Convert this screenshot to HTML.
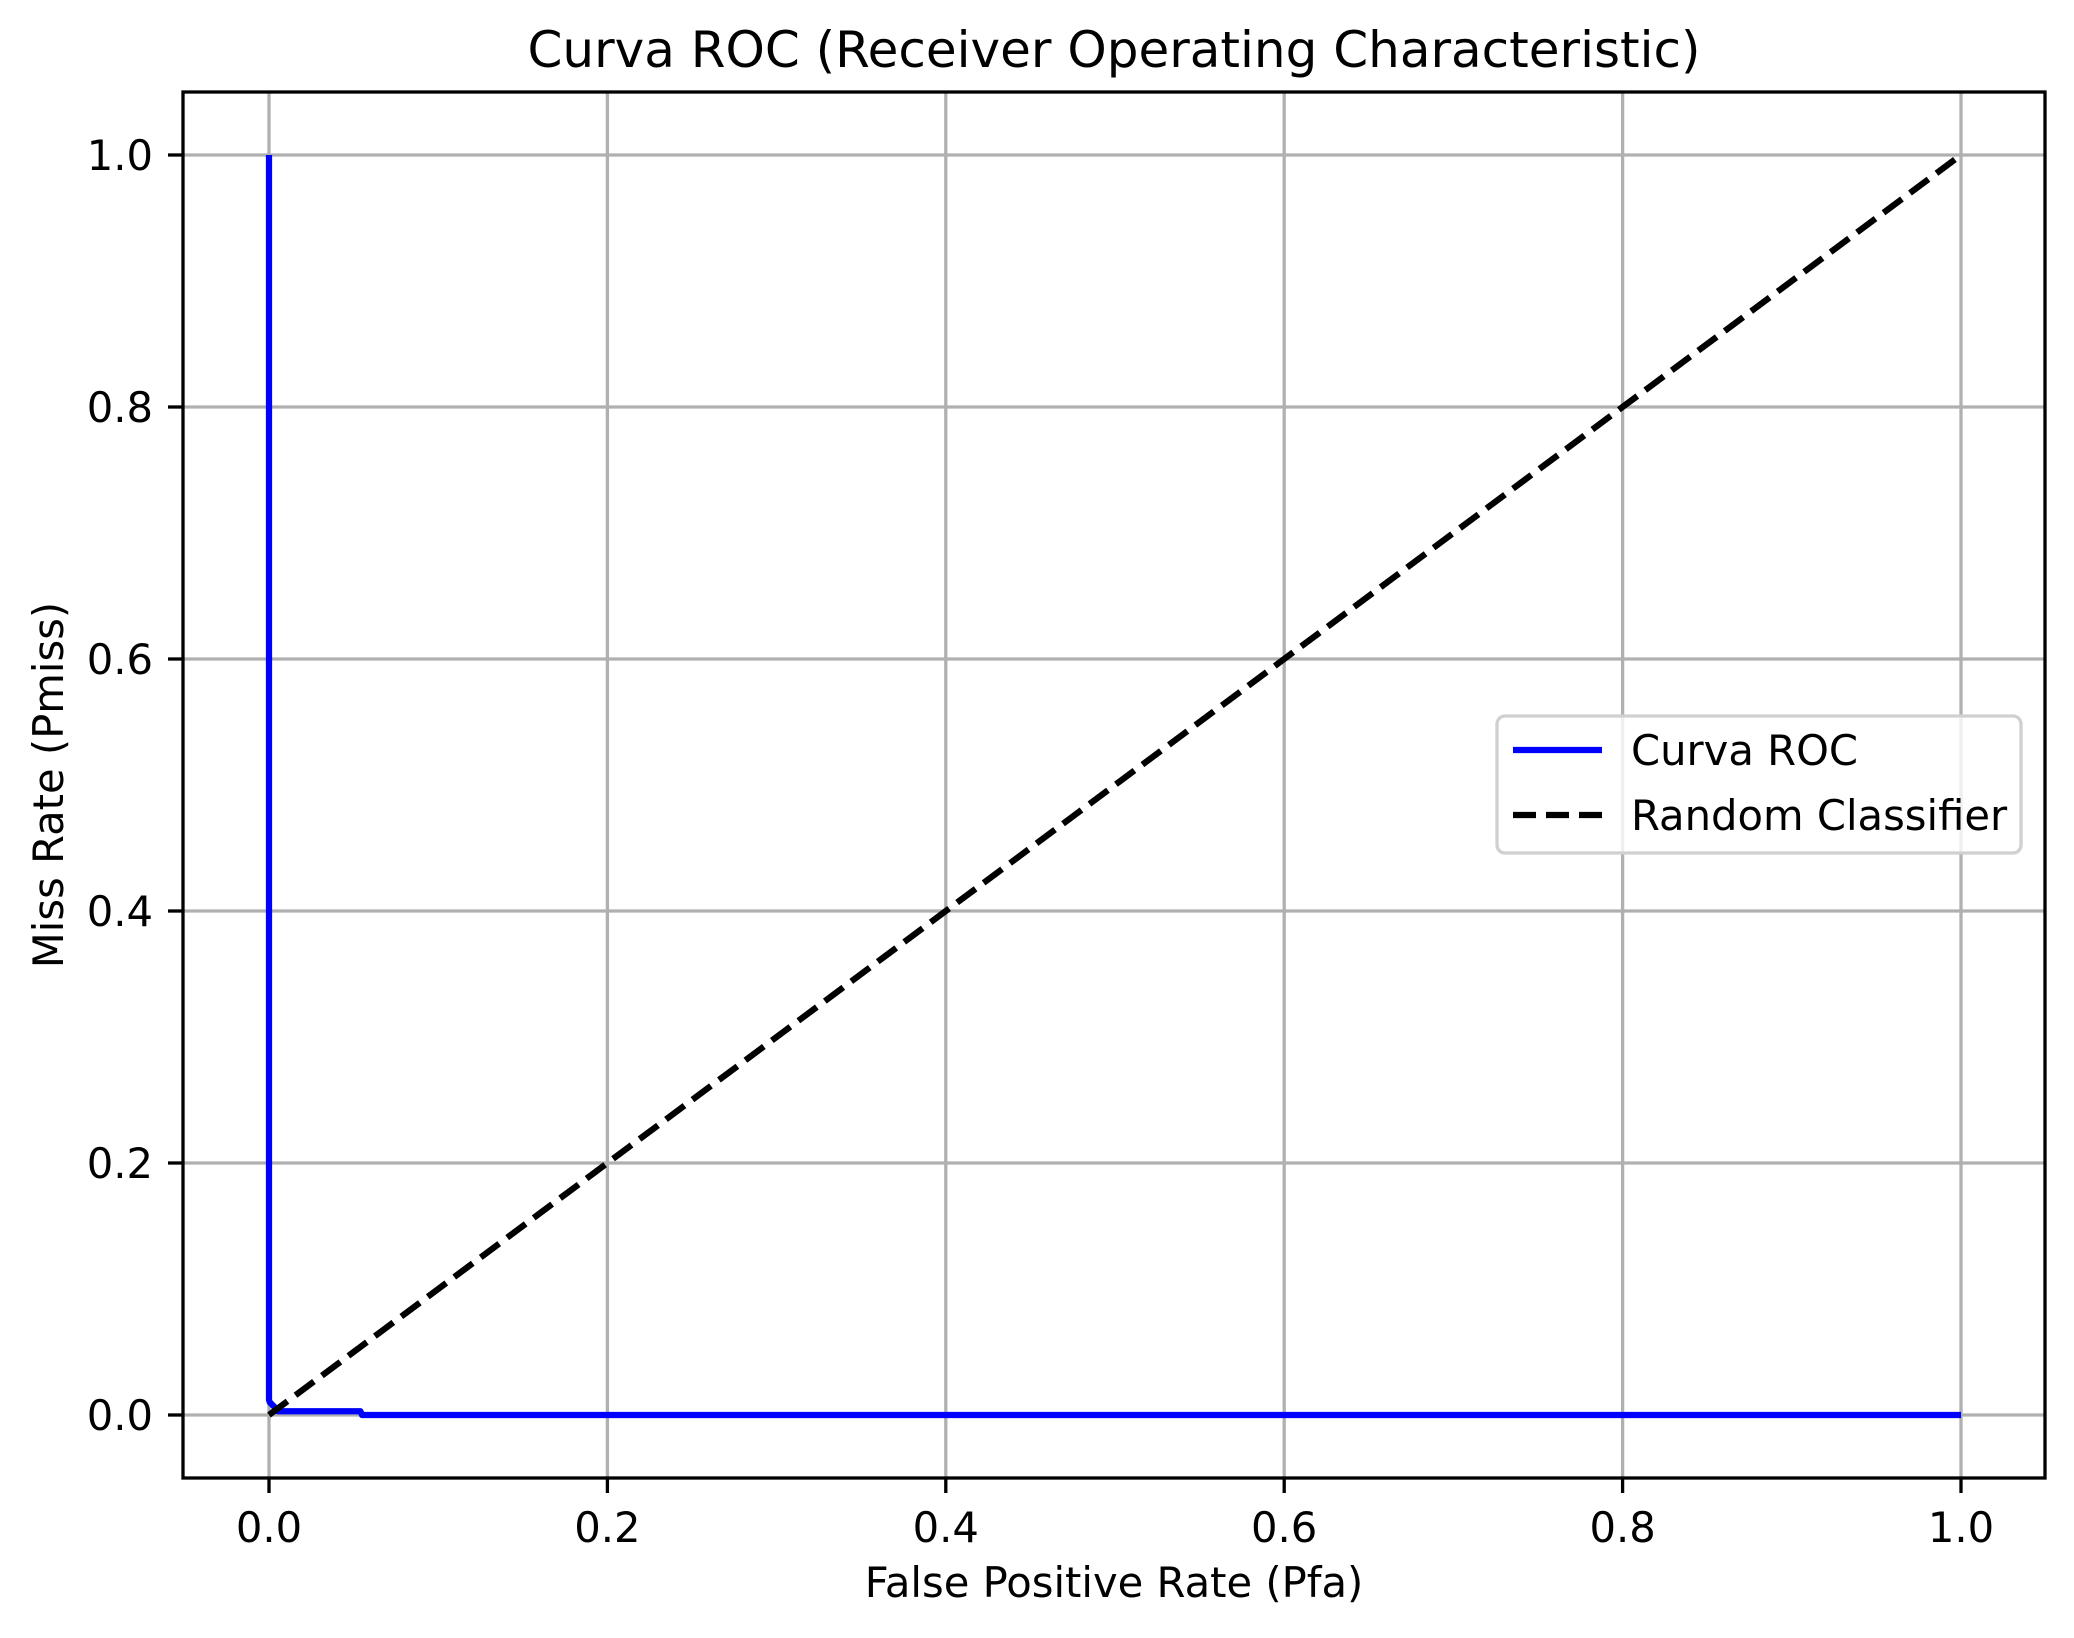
<!DOCTYPE html>
<html><head><meta charset="utf-8"><style>
html,body{margin:0;padding:0;background:#fff;}
svg{display:block;font-family:"DejaVu Sans","Liberation Sans",sans-serif;}
</style></head><body>
<svg id="chart" width="2074" height="1638" viewBox="0 0 2074 1638" xmlns="http://www.w3.org/2000/svg">
<rect width="2074" height="1638" fill="#fff"/>
<g id="grid"></g>
<g id="series"></g>
<rect x="183" y="92" width="1862" height="1386" fill="none" stroke="#000" stroke-width="3.3"/>
<g id="ticks"></g>
<text x="1114" y="67" font-size="50" text-anchor="middle">Curva ROC (Receiver Operating Characteristic)</text>
<text x="1114" y="1597" font-size="41.7" text-anchor="middle">False Positive Rate (Pfa)</text>
<text transform="translate(63,785) rotate(-90)" font-size="41.7" text-anchor="middle">Miss Rate (Pmiss)</text>
<g>
<rect x="1497" y="716" width="524" height="137" rx="8" fill="#fff" fill-opacity="0.8" stroke="#d0d0d0" stroke-width="3.3"/>
<line x1="1513" y1="750" x2="1602" y2="750" stroke="#0000ff" stroke-width="6.25"/>
<text x="1631" y="765" font-size="41.7">Curva ROC</text>
<line x1="1513" y1="815" x2="1602" y2="815" stroke="#000" stroke-width="6.25" stroke-dasharray="23,10"/>
<text x="1631" y="830" font-size="41.7">Random Classifier</text>
</g>
</svg>
<script>
const xTicks = [0.0, 0.2, 0.4, 0.6, 0.8, 1.0];
const yTicks = [0.0, 0.2, 0.4, 0.6, 0.8, 1.0];
const xTickLabels = ["0.0","0.2","0.4","0.6","0.8","1.0"];
const yTickLabels = ["0.0","0.2","0.4","0.6","0.8","1.0"];
const rocFpr = [0, 0, 0.0005, 0.005, 0.005, 0.054, 0.055, 1.0];
const rocPmiss = [1.0, 0.012, 0.010, 0.004, 0.003, 0.003, 0.0, 0.0];
const randomFpr = [0, 1];
const randomPmiss = [0, 1];

const NS = "http://www.w3.org/2000/svg";
const X0 = 269, X1 = 1961, Y0 = 1415, Y1 = 155;
function sx(v){ return X0 + v * (X1 - X0); }
function sy(v){ return Y0 + v * (Y1 - Y0); }
function mk(tag, attrs, parent){
  const e = document.createElementNS(NS, tag);
  for (const k in attrs) e.setAttribute(k, attrs[k]);
  parent.appendChild(e);
  return e;
}
const grid = document.getElementById('grid');
const ticks = document.getElementById('ticks');
const series = document.getElementById('series');

xTicks.forEach((v, i) => {
  const g = mk('line', {x1: sx(v), x2: sx(v), y1: 92, y2: 1478, stroke: '#b0b0b0', 'stroke-width': 3.3}, grid);
  
  
  const t = mk('line', {x1: sx(v), x2: sx(v), y1: 1478, y2: 1493, stroke: '#000', 'stroke-width': 3.3}, ticks);
  
  
  const l = mk('text', {x: sx(v), y: 1542, 'font-size': 41.7, 'text-anchor': 'middle'}, ticks);
  l.textContent = xTickLabels[i];
  
  
});
yTicks.forEach((v, i) => {
  const g = mk('line', {x1: 183, x2: 2045, y1: sy(v), y2: sy(v), stroke: '#b0b0b0', 'stroke-width': 3.3}, grid);
  
  
  const t = mk('line', {x1: 168, x2: 183, y1: sy(v), y2: sy(v), stroke: '#000', 'stroke-width': 3.3}, ticks);
  
  
  const l = mk('text', {x: 153, y: sy(v) + 15, 'font-size': 41.7, 'text-anchor': 'end'}, ticks);
  l.textContent = yTickLabels[i];
  
  
});

const rocPts = rocFpr.map((v, i) => sx(v) + ',' + sy(rocPmiss[i])).join(' ');
const roc = mk('polyline', {points: rocPts, fill: 'none', stroke: '#0000ff', 'stroke-width': 6.25, 'stroke-linejoin': 'round'}, series);



const rndPts = randomFpr.map((v, i) => sx(v) + ',' + sy(randomPmiss[i])).join(' ');
const rnd = mk('polyline', {points: rndPts, fill: 'none', stroke: '#000', 'stroke-width': 6.25, 'stroke-dasharray': '23,10'}, series);


</script>
</body></html>
